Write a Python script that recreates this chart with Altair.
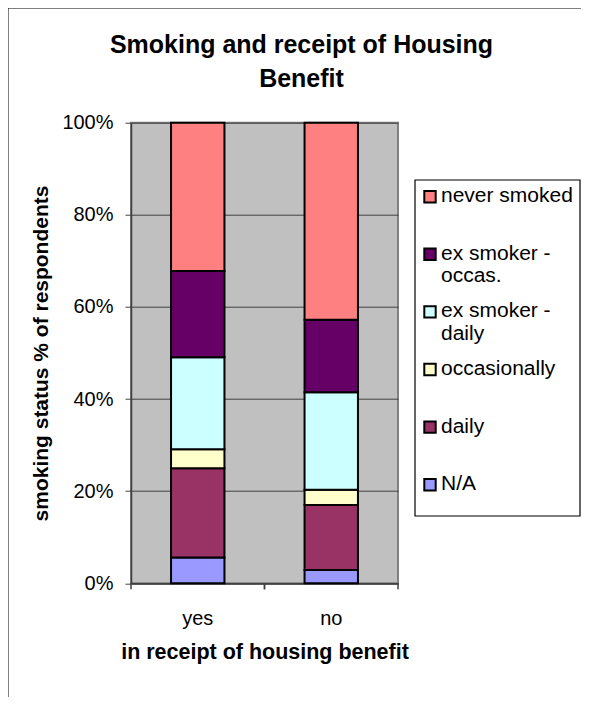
import altair as alt
import pandas as pd

groups = ["yes", "no"]
categories = ["N/A", "daily", "occasionally", "ex smoker - daily", "ex smoker - occas.", "never smoked"]
colors = ["#9999FF", "#993366", "#FFFFCC", "#CCFFFF", "#660066", "#FF8080"]
yes_values = [5.6, 19.4, 4.1, 20.0, 18.7, 32.2]
no_values = [2.9, 14.1, 3.3, 21.2, 15.7, 42.8]
y_ticks = [0, 0.2, 0.4, 0.6, 0.8, 1.0]
legend_order = ["never smoked", "ex smoker - occas.", "ex smoker - daily", "occasionally", "daily", "N/A"]
legend_labels = ["never smoked", "ex smoker -\noccas.", "ex smoker -\ndaily", "occasionally", "daily", "N/A"]

FONT = "Liberation Sans"
W, H = 267, 460.6

rows = []
for g, vals in zip(groups, [yes_values, no_values]):
    for i, (c, v) in enumerate(zip(categories, vals)):
        rows.append({"group": g, "category": c, "value": v, "order": i})
df = pd.DataFrame(rows)

df_leg = pd.DataFrame({"category": legend_order, "label": legend_labels,
                       "row": list(range(len(legend_order)))})
df_one = pd.DataFrame({"k": [0]})
df_groups = pd.DataFrame({"group": groups})

color_scale = alt.Scale(domain=categories, range=colors)
x_scale = alt.Scale(domain=groups, paddingInner=0, paddingOuter=0)

bars = alt.Chart(df).mark_bar(width={"band": 0.4}, stroke="black", strokeWidth=2).encode(
    x=alt.X("group:N", sort=groups, scale=x_scale,
            axis=alt.Axis(title="in receipt of housing benefit", labelAngle=0, ticks=False,
                          labelFont=FONT, labelFontSize=20, labelColor="black", labelPadding=25,
                          titleFont=FONT, titleFontSize=21.5, titleFontWeight="bold", titleColor="black",
                          titlePadding=13, domainColor="#404040", domainWidth=1.5, grid=False)),
    y=alt.Y("value:Q", stack="normalize", scale=alt.Scale(domain=[0, 1], nice=False),
            axis=alt.Axis(format="%", values=y_ticks, title="smoking status % of respondents",
                          labelFont=FONT, labelFontSize=20, labelColor="black", labelPadding=12,
                          tickSize=6, tickColor="#404040", domainColor="#404040", domainWidth=1.5,
                          gridColor="#404040", gridWidth=1,
                          titleFont=FONT, titleFontSize=21, titleFontWeight="bold", titleColor="black",
                          titlePadding=10)),
    color=alt.Color("category:N", scale=color_scale, legend=None),
    order=alt.Order("order:Q", sort="ascending"),
)

tick_a = alt.Chart(df_groups).mark_rule(color="#404040", strokeWidth=1.5).encode(
    x=alt.X("group:N", sort=groups, scale=x_scale, bandPosition=0),
    y=alt.value(H), y2=alt.value(H + 6))
tick_b = alt.Chart(df_groups).mark_rule(color="#404040", strokeWidth=1.5).encode(
    x=alt.X("group:N", sort=groups, scale=x_scale, bandPosition=1),
    y=alt.value(H), y2=alt.value(H + 6))

leg_box = alt.Chart(df_one).mark_rect(fill="white", stroke="black", strokeWidth=1.2).encode(
    x=alt.value(284), x2=alt.value(449), y=alt.value(57.3), y2=alt.value(393.3))

leg_y = alt.Y("row:Q", scale=alt.Scale(domain=[0, 5], range=[74, 362]), axis=None)
leg_sw = alt.Chart(df_leg).mark_square(size=130, opacity=1, stroke="black", strokeWidth=2).encode(
    x=alt.value(299), y=leg_y,
    color=alt.Color("category:N", scale=color_scale, legend=None))
leg_txt = alt.Chart(df_leg).mark_text(align="left", baseline="top", dy=-11.5, font=FONT, fontSize=21,
                                       lineBreak="\n", lineHeight=22.5, color="black").encode(
    x=alt.value(310), y=leg_y, text="label:N")

border = alt.Chart(df_one).mark_rect(fill=None, stroke="black", strokeWidth=1).encode(
    x=alt.value(-123), x2=alt.value(900), y=alt.value(-114.7), y2=alt.value(1000))

chart = alt.layer(bars, tick_a, tick_b, leg_box, leg_sw, leg_txt, border).resolve_scale(
    y="independent"
).properties(
    width=W, height=H,
    autosize=alt.AutoSizeParams(type="none"),
    padding={"left": 123, "top": 114.7, "right": 183, "bottom": 114},
    background="white",
    title=alt.TitleParams(["Smoking and receipt of Housing", "Benefit"], font=FONT, fontSize=25,
                          fontWeight="bold", color="black", lineHeight=34, anchor="middle",
                          offset=-84.5, dx=37),
).configure_view(fill="#C0C0C0", stroke="#808080", strokeWidth=2)

chart.save("out.html", embed_options={"renderer": "svg", "actions": False})
